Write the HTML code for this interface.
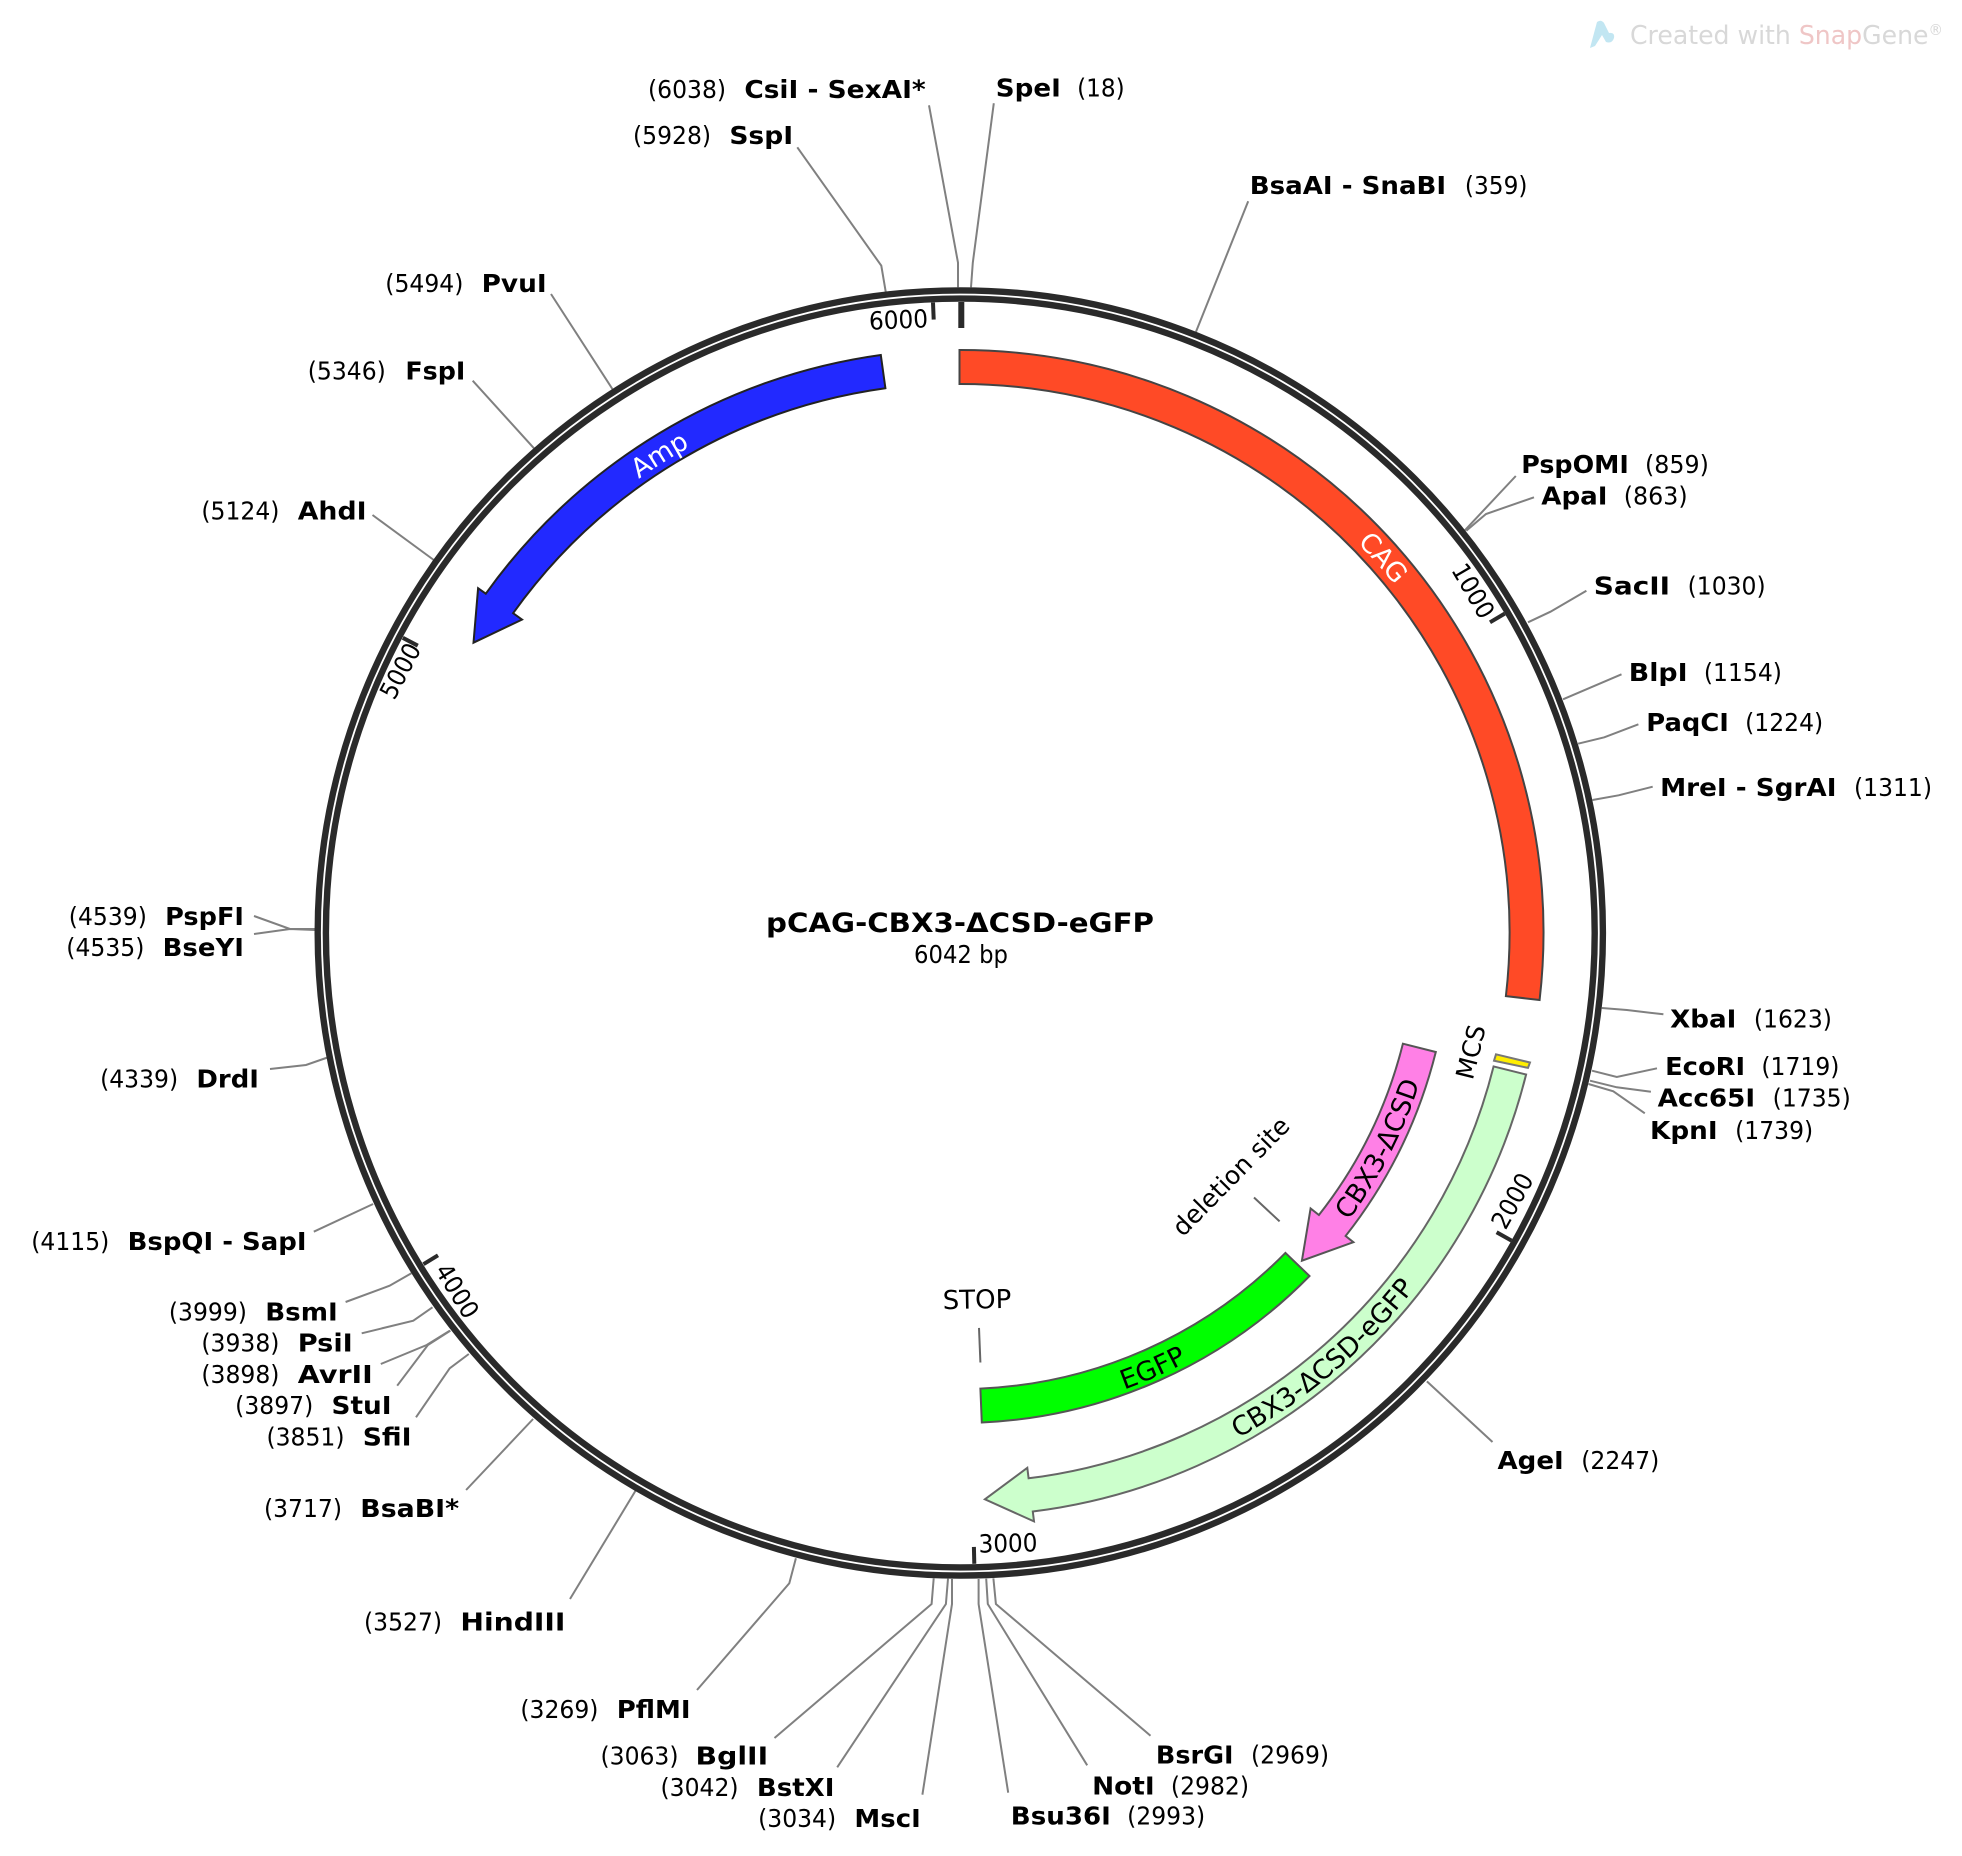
<!DOCTYPE html>
<html lang="en">
<head>
<meta charset="utf-8">
<title>pCAG-CBX3-ΔCSD-eGFP</title>
<style>
html,body{margin:0;padding:0;background:#fff}
svg{display:block}
text{font-family:"DejaVu Sans","Liberation Sans",sans-serif;font-size:25px;fill:#000}
.n{font-weight:bold}
.c{text-anchor:middle;dominant-baseline:central}
.fl{font-size:26.5px;text-anchor:middle}
.l{fill:none;stroke:#808080;stroke-width:2}
.f{stroke-width:2;stroke-linejoin:miter}
</style>
</head>
<body>
<svg xmlns="http://www.w3.org/2000/svg" width="1962" height="1856" viewBox="0 0 1962 1856">
<defs>
<path id="pCag" d="M1226.1 441.7A558.5 558.5 0 0 1 1479.8 727.4"/>
<path id="pAmp" d="M519.2 590.7A558.5 558.5 0 0 1 842.5 387.1"/>
<path id="pCbx" d="M1220.3 1337.8A481 481 0 0 0 1441 910.3"/>
<path id="pLong" d="M1064.2 1498A574.5 574.5 0 0 0 1501.7 1125.7"/>
<path id="pEgfp" d="M908.6 1411.2A481 481 0 0 0 1348.7 1217.1"/>
</defs>

<!-- watermark -->
<path d="M1590 48L1597 22Q1601 19 1604 23L1609 33Q1615 32 1614 38Q1612 44 1606 42L1602 35L1595 46Z" fill="#c2e6f2"/>
<text x="1630" y="44" style="font-size:26px;fill:#d8d8d8" textLength="313" lengthAdjust="spacingAndGlyphs">Created with <tspan style="fill:#efc6c6">Snap</tspan>Gene<tspan style="font-size:15px" dy="-9">®</tspan></text>

<!-- connectors -->
<polyline class="l" points="797.3,147.3 881.3,265.7 885.7,291.7"/>
<polyline class="l" points="929,105.3 958,262.7 958,287.3"/>
<polyline class="l" points="993.8,103.3 972.8,262.7 971,287.3"/>
<polyline class="l" points="1248.2,201.3 1196,331.7"/>
<polyline class="l" points="1515.8,476 1464.5,530.7"/>
<polyline class="l" points="1534,497.3 1486,514 1466.3,530.7"/>
<polyline class="l" points="1586.4,590.7 1550.5,611.7 1528,622.3"/>
<polyline class="l" points="1621.5,674.3 1563,699.3"/>
<polyline class="l" points="1638.4,724.3 1604.3,737.3 1578.1,743.7"/>
<polyline class="l" points="1652.7,786.7 1618.6,795.3 1592.5,800"/>
<polyline class="l" points="1663.4,1014.3 1626.9,1010 1601.8,1008"/>
<polyline class="l" points="1657,1068.3 1616.8,1077 1592,1070.7"/>
<polyline class="l" points="1650.9,1091.7 1616.8,1087.3 1590,1080.7"/>
<polyline class="l" points="1644.8,1113.3 1613.3,1091.3 1588.5,1084"/>
<polyline class="l" points="1492.5,1442 1426.9,1381.4"/>
<polyline class="l" points="697,1690 789.3,1583.3 795.9,1558.3"/>
<polyline class="l" points="774.5,1738 931.6,1604 933.7,1578.3"/>
<polyline class="l" points="837.2,1767.3 945.9,1604 948,1578.7"/>
<polyline class="l" points="922.4,1794.7 952,1604 952,1579"/>
<polyline class="l" points="1008.2,1792.7 978.6,1604 978.6,1579"/>
<polyline class="l" points="1087.2,1765.3 987.8,1604 986.2,1578.7"/>
<polyline class="l" points="1150.5,1735.7 995.9,1604 993.4,1578.3"/>
<polyline class="l" points="570,1599 637.5,1487.5"/>
<polyline class="l" points="466.1,1490 533.1,1419"/>
<polyline class="l" points="416,1417.3 449.7,1368.3 468.8,1354"/>
<polyline class="l" points="397.2,1385.7 427.9,1345 450.4,1330.7"/>
<polyline class="l" points="380.8,1364 426.7,1345 449.7,1330.7"/>
<polyline class="l" points="361.7,1333.3 413.3,1320.7 432.5,1307.3"/>
<polyline class="l" points="345.6,1302 389.6,1285.7 411.4,1273.3"/>
<polyline class="l" points="313.8,1231.7 373.1,1204"/>
<polyline class="l" points="270,1069 306,1065 327.5,1057.5"/>
<polyline class="l" points="254,934 290,929 315,930"/>
<polyline class="l" points="254,916 290,929 315,929"/>
<polyline class="l" points="372.5,515 433.8,560"/>
<polyline class="l" points="472.7,380.7 534,448.3"/>
<polyline class="l" points="551,294 612.4,389"/>

<!-- backbone -->
<circle cx="960.3" cy="933" r="642.6" fill="none" stroke="#2a2a2a" stroke-width="6.4"/>
<circle cx="960.3" cy="933" r="634.4" fill="none" stroke="#2a2a2a" stroke-width="6.4"/>

<!-- ticks -->
<g stroke="#2a2a2a" fill="none">
<line x1="961.3" y1="302" x2="961.3" y2="328" stroke-width="6"/>
<line x1="933" y1="302.6" x2="933.7" y2="319.6" stroke-width="4"/>
<line x1="1504.7" y1="613.6" x2="1490" y2="622.3" stroke-width="4"/>
<line x1="1511.5" y1="1240.6" x2="1496.6" y2="1232.3" stroke-width="4"/>
<line x1="974.3" y1="1563.8" x2="973.9" y2="1546.9" stroke-width="4"/>
<line x1="423.5" y1="1264.2" x2="438" y2="1255.3" stroke-width="4"/>
<line x1="402.8" y1="637.8" x2="417.8" y2="645.7" stroke-width="4"/>
</g>
<text class="c" transform="translate(898.5 320) rotate(-2.5)" textLength="59" lengthAdjust="spacingAndGlyphs">6000</text>
<text class="c" transform="translate(1473 591) rotate(59.6)" textLength="59" lengthAdjust="spacingAndGlyphs">1000</text>
<text class="c" transform="translate(1512.5 1201) rotate(-60.8)" textLength="59" lengthAdjust="spacingAndGlyphs">2000</text>
<text class="c" transform="translate(1008 1543.5) rotate(-1.25)" textLength="59" lengthAdjust="spacingAndGlyphs">3000</text>
<text class="c" transform="translate(457 1291) rotate(58.3)" textLength="59" lengthAdjust="spacingAndGlyphs">4000</text>
<text class="c" transform="translate(400.5 671) rotate(-62.1)" textLength="59" lengthAdjust="spacingAndGlyphs">5000</text>

<!-- features -->
<path class="f" fill="#ff4a26" stroke="#444" d="M959.5 350A583 583 0 0 1 1539.6 1000L1505.9 996.1A549 549 0 0 0 959.5 384Z"/>
<path class="f" fill="#2229ff" stroke="#222" d="M880.8 355A583.5 583.5 0 0 0 485.8 593.7L478.1 588.2L473.5 642.7L522 619.6L513.1 613.2A550 550 0 0 1 885.4 388.2Z"/>
<path class="f" fill="#ff80e6" stroke="#555" d="M1435.8 1052A490 490 0 0 1 1345.6 1236L1353.4 1242.2L1301.9 1260.7L1310.6 1208.5L1318.9 1215A456 456 0 0 0 1402.9 1043.7Z"/>
<path class="f" fill="#ccffcc" stroke="#666" d="M1526.1 1074.5A583 583 0 0 1 1032.8 1511.5L1034 1521.4L984.9 1499.3L1027.3 1467.8L1028.6 1478.3A549.5 549.5 0 0 0 1493.6 1066.4Z"/>
<path class="f" fill="#00ff00" stroke="#555" d="M1309.5 1276A490 490 0 0 1 981.8 1422.5L980.4 1388.6A456 456 0 0 0 1285.4 1252.9Z"/>
<polygon class="f" fill="#ffee00" stroke="#777" points="1496,1054.3 1530,1062.5 1528,1067.9 1494,1060.7"/>

<!-- feature labels -->
<text class="fl" dy="2" style="fill:#fff"><textPath href="#pCag" startOffset="50%">CAG</textPath></text>
<text class="fl" dy="2" style="fill:#fff"><textPath href="#pAmp" startOffset="50%">Amp</textPath></text>
<text class="fl" dy="2"><textPath href="#pCbx" startOffset="50%">CBX3-ΔCSD</textPath></text>
<text class="fl" dy="2"><textPath href="#pLong" startOffset="50%">CBX3-ΔCSD-eGFP</textPath></text>
<text class="fl" dy="4"><textPath href="#pEgfp" startOffset="50%">EGFP</textPath></text>

<!-- annotations -->
<text class="c" style="font-size:25px" transform="translate(1471 1052) rotate(-76)">MCS</text>
<text class="c" transform="translate(1231 1176.5) rotate(-45.5)" style="font-size:25px">deletion site</text>
<text class="c" style="font-size:26px" transform="translate(977 1300.5) rotate(-1)">STOP</text>
<line x1="1254" y1="1197.5" x2="1279.6" y2="1221.4" stroke="#666" stroke-width="2"/>
<line x1="979" y1="1327.9" x2="980.4" y2="1362.5" stroke="#666" stroke-width="2"/>

<!-- center -->
<text class="n" x="766" y="932" style="font-size:27px" textLength="388" lengthAdjust="spacingAndGlyphs">pCAG-CBX3-ΔCSD-eGFP</text>
<text x="914" y="963" textLength="94" lengthAdjust="spacingAndGlyphs">6042 bp</text>

<!-- site labels -->
<g transform="matrix(1.0008 0 0 1.001 0 0)">
<text x="647.5" y="97.75" textLength="78" lengthAdjust="spacingAndGlyphs">(6038)</text><text class="n" x="743.75" y="97.75" textLength="181.25" lengthAdjust="spacingAndGlyphs">CsiI - SexAI*</text>
<text class="n" x="995" y="96.5" textLength="65" lengthAdjust="spacingAndGlyphs">SpeI</text><text x="1076.25" y="96.5" textLength="47.5" lengthAdjust="spacingAndGlyphs">(18)</text>
<text x="632.5" y="144" textLength="78" lengthAdjust="spacingAndGlyphs">(5928)</text><text class="n" x="728.75" y="144" textLength="63.75" lengthAdjust="spacingAndGlyphs">SspI</text>
<text class="n" x="1248.75" y="194" textLength="196.25" lengthAdjust="spacingAndGlyphs">BsaAI - SnaBI</text><text x="1463.75" y="194" textLength="62.5" lengthAdjust="spacingAndGlyphs">(359)</text>
<text x="385" y="291.5" textLength="78" lengthAdjust="spacingAndGlyphs">(5494)</text><text class="n" x="481.25" y="291.5" textLength="65" lengthAdjust="spacingAndGlyphs">PvuI</text>
<text x="307.5" y="379" textLength="78" lengthAdjust="spacingAndGlyphs">(5346)</text><text class="n" x="405" y="379" textLength="60" lengthAdjust="spacingAndGlyphs">FspI</text>
<text x="201.25" y="519" textLength="78" lengthAdjust="spacingAndGlyphs">(5124)</text><text class="n" x="297.5" y="519" textLength="68.75" lengthAdjust="spacingAndGlyphs">AhdI</text>
<text class="n" x="1520" y="472.75" textLength="107.5" lengthAdjust="spacingAndGlyphs">PspOMI</text><text x="1643.75" y="472.75" textLength="63.75" lengthAdjust="spacingAndGlyphs">(859)</text>
<text class="n" x="1540" y="504" textLength="66.25" lengthAdjust="spacingAndGlyphs">ApaI</text><text x="1622.5" y="504" textLength="63.75" lengthAdjust="spacingAndGlyphs">(863)</text>
<text class="n" x="1592.5" y="594" textLength="76.25" lengthAdjust="spacingAndGlyphs">SacII</text><text x="1686.25" y="594" textLength="78" lengthAdjust="spacingAndGlyphs">(1030)</text>
<text class="n" x="1627.5" y="680.25" textLength="58.75" lengthAdjust="spacingAndGlyphs">BlpI</text><text x="1702.5" y="680.25" textLength="78" lengthAdjust="spacingAndGlyphs">(1154)</text>
<text class="n" x="1645" y="730.25" textLength="82.5" lengthAdjust="spacingAndGlyphs">PaqCI</text><text x="1743.75" y="730.25" textLength="78" lengthAdjust="spacingAndGlyphs">(1224)</text>
<text class="n" x="1658.75" y="795.25" textLength="176.25" lengthAdjust="spacingAndGlyphs">MreI - SgrAI</text><text x="1852.5" y="795.25" textLength="78" lengthAdjust="spacingAndGlyphs">(1311)</text>
<text class="n" x="1668.75" y="1026.5" textLength="66.25" lengthAdjust="spacingAndGlyphs">XbaI</text><text x="1752.5" y="1026.5" textLength="78" lengthAdjust="spacingAndGlyphs">(1623)</text>
<text class="n" x="1663.75" y="1074" textLength="80" lengthAdjust="spacingAndGlyphs">EcoRI</text><text x="1760" y="1074" textLength="78" lengthAdjust="spacingAndGlyphs">(1719)</text>
<text class="n" x="1656.25" y="1105.25" textLength="97.5" lengthAdjust="spacingAndGlyphs">Acc65I</text><text x="1771.25" y="1105.25" textLength="78" lengthAdjust="spacingAndGlyphs">(1735)</text>
<text class="n" x="1648.75" y="1137.75" textLength="67.5" lengthAdjust="spacingAndGlyphs">KpnI</text><text x="1733.75" y="1137.75" textLength="78" lengthAdjust="spacingAndGlyphs">(1739)</text>
<text class="n" x="1496.25" y="1467.75" textLength="66.25" lengthAdjust="spacingAndGlyphs">AgeI</text><text x="1580" y="1467.75" textLength="78" lengthAdjust="spacingAndGlyphs">(2247)</text>
<text class="n" x="1155" y="1761.5" textLength="77.5" lengthAdjust="spacingAndGlyphs">BsrGI</text><text x="1250" y="1761.5" textLength="78" lengthAdjust="spacingAndGlyphs">(2969)</text>
<text class="n" x="1091.25" y="1792.75" textLength="62.5" lengthAdjust="spacingAndGlyphs">NotI</text><text x="1170" y="1792.75" textLength="78" lengthAdjust="spacingAndGlyphs">(2982)</text>
<text class="n" x="1010" y="1822.75" textLength="100" lengthAdjust="spacingAndGlyphs">Bsu36I</text><text x="1126.25" y="1822.75" textLength="78" lengthAdjust="spacingAndGlyphs">(2993)</text>
<text x="757.5" y="1825.25" textLength="78" lengthAdjust="spacingAndGlyphs">(3034)</text><text class="n" x="853.75" y="1825.25" textLength="66.25" lengthAdjust="spacingAndGlyphs">MscI</text>
<text x="660" y="1794" textLength="78" lengthAdjust="spacingAndGlyphs">(3042)</text><text class="n" x="756.25" y="1794" textLength="77.5" lengthAdjust="spacingAndGlyphs">BstXI</text>
<text x="600" y="1762.75" textLength="78" lengthAdjust="spacingAndGlyphs">(3063)</text><text class="n" x="695" y="1762.75" textLength="72.5" lengthAdjust="spacingAndGlyphs">BglII</text>
<text x="520" y="1716.5" textLength="78" lengthAdjust="spacingAndGlyphs">(3269)</text><text class="n" x="616.25" y="1716.5" textLength="73.75" lengthAdjust="spacingAndGlyphs">PflMI</text>
<text x="363.75" y="1629" textLength="78" lengthAdjust="spacingAndGlyphs">(3527)</text><text class="n" x="460" y="1629" textLength="105" lengthAdjust="spacingAndGlyphs">HindIII</text>
<text x="263.75" y="1515.25" textLength="78" lengthAdjust="spacingAndGlyphs">(3717)</text><text class="n" x="360" y="1515.25" textLength="98.75" lengthAdjust="spacingAndGlyphs">BsaBI*</text>
<text x="266.25" y="1444" textLength="78" lengthAdjust="spacingAndGlyphs">(3851)</text><text class="n" x="362.5" y="1444" textLength="48.75" lengthAdjust="spacingAndGlyphs">SfiI</text>
<text x="235" y="1412.75" textLength="78" lengthAdjust="spacingAndGlyphs">(3897)</text><text class="n" x="331.25" y="1412.75" textLength="60" lengthAdjust="spacingAndGlyphs">StuI</text>
<text x="201.25" y="1381.5" textLength="78" lengthAdjust="spacingAndGlyphs">(3898)</text><text class="n" x="297.5" y="1381.5" textLength="75" lengthAdjust="spacingAndGlyphs">AvrII</text>
<text x="201.25" y="1350.25" textLength="78" lengthAdjust="spacingAndGlyphs">(3938)</text><text class="n" x="297.5" y="1350.25" textLength="55" lengthAdjust="spacingAndGlyphs">PsiI</text>
<text x="168.75" y="1319" textLength="78" lengthAdjust="spacingAndGlyphs">(3999)</text><text class="n" x="265" y="1319" textLength="72.5" lengthAdjust="spacingAndGlyphs">BsmI</text>
<text x="31.25" y="1249" textLength="78" lengthAdjust="spacingAndGlyphs">(4115)</text><text class="n" x="127.5" y="1249" textLength="178.75" lengthAdjust="spacingAndGlyphs">BspQI - SapI</text>
<text x="100" y="1086.5" textLength="78" lengthAdjust="spacingAndGlyphs">(4339)</text><text class="n" x="196.25" y="1086.5" textLength="62.5" lengthAdjust="spacingAndGlyphs">DrdI</text>
<text x="66.25" y="955.25" textLength="78" lengthAdjust="spacingAndGlyphs">(4535)</text><text class="n" x="162.5" y="955.25" textLength="81.25" lengthAdjust="spacingAndGlyphs">BseYI</text>
<text x="68.75" y="924" textLength="78" lengthAdjust="spacingAndGlyphs">(4539)</text><text class="n" x="165" y="924" textLength="78.75" lengthAdjust="spacingAndGlyphs">PspFI</text>
</g>
</svg>
</body>
</html>
